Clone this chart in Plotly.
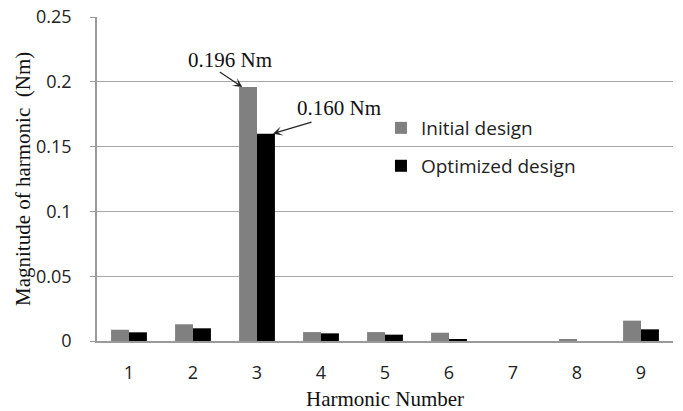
import plotly.graph_objects as go

harmonics = [1, 2, 3, 4, 5, 6, 7, 8, 9]
initial_design = [0.0087, 0.0129, 0.196, 0.0069, 0.0069, 0.0064, 0.0, 0.0015, 0.0157]
optimized_design = [0.0067, 0.0098, 0.160, 0.0059, 0.0049, 0.0015, 0.0, 0.0, 0.009]
series_names = ["Initial design", "Optimized design"]
tick_labels = [str(h) for h in harmonics]
x_title = "Harmonic Number"
y_title = "Magnitude of harmonic  (Nm)"

BAR_GAP = 0.44
bar_w = (1 - BAR_GAP) / 2

sans = "Open Sans"
serif = "Liberation Serif"

fig = go.Figure()
fig.add_trace(go.Bar(x=harmonics, y=initial_design, name=series_names[0], showlegend=True,
                     marker=dict(color="#808080", line=dict(width=0)), legend="legend"))
fig.add_trace(go.Bar(x=harmonics, y=optimized_design, name=series_names[1], showlegend=True,
                     marker=dict(color="#000000", line=dict(width=0)), legend="legend2"))

# peak annotations (harmonic 3)
i3 = harmonics.index(3)
tip1_x = harmonics[i3] - bar_w + 0.05
tip1_y = initial_design[i3]
tip2_x = harmonics[i3] + bar_w - 0.03
tip2_y = optimized_design[i3]

annos = [
    dict(x=tip1_x, y=tip1_y, xref="x", yref="y", text="", showarrow=True,
         ax=-24, ay=-16, arrowhead=3, arrowsize=1.3, arrowwidth=1.2, arrowcolor="#222"),
    dict(x=tip1_x, y=tip1_y, xref="x", yref="y", text=f"{initial_design[i3]:.3f} Nm",
         showarrow=False, xshift=-12, yshift=27, font=dict(family=serif, size=21, color="#111")),
    dict(x=tip2_x, y=tip2_y, xref="x", yref="y", text="", showarrow=True,
         ax=40, ay=-12, arrowhead=3, arrowsize=1.3, arrowwidth=1.2, arrowcolor="#222"),
    dict(x=tip2_x, y=tip2_y, xref="x", yref="y", text=f"{optimized_design[i3]:.3f} Nm",
         showarrow=False, xshift=66, yshift=26, font=dict(family=serif, size=21, color="#111")),
    # axis titles
    dict(x=0.5, y=0, xref="paper", yref="paper", text=x_title, showarrow=False,
         yanchor="middle", xanchor="center", yshift=-58,
         font=dict(family=serif, size=21, color="#111")),
    dict(x=0, y=0.5, xref="paper", yref="paper", text=y_title, showarrow=False,
         textangle=-90, xanchor="center", yanchor="middle", xshift=-74,
         font=dict(family=serif, size=21, color="#111")),
]

fig.update_layout(
    width=683, height=411,
    margin=dict(l=97, r=10, t=17, b=70, pad=0, autoexpand=False),
    paper_bgcolor="white", plot_bgcolor="white",
    showlegend=True,
    barmode="group", bargap=BAR_GAP, bargroupgap=0,
    font=dict(family=sans, size=18, color="#222"),
    annotations=annos,
    legend=dict(x=0.493, y=0.716, xanchor="left", yanchor="top", bgcolor="rgba(0,0,0,0)",
                font=dict(family=sans, size=19, color="#222"), visible=True),
    legend2=dict(x=0.493, y=0.599, xanchor="left", yanchor="top", bgcolor="rgba(0,0,0,0)",
                 font=dict(family=sans, size=19, color="#222"), visible=True),
    xaxis=dict(
        range=[0.5, 9.5], tickmode="array", tickvals=harmonics, ticktext=tick_labels,
        showgrid=False, showline=True, linecolor="#9a9a9a", linewidth=1.5,
        ticks="", ticklabelstandoff=15, zeroline=False, automargin=False,
    ),
    yaxis=dict(
        range=[0, 0.25], dtick=0.05, tick0=0,
        showgrid=True, gridcolor="#a6a6a6", gridwidth=1,
        showline=True, linecolor="#9a9a9a", linewidth=1.5,
        ticks="outside", ticklen=5, tickcolor="#9a9a9a", ticklabelstandoff=15,
        zeroline=False, automargin=False,
    ),
)

fig.write_html("out.html", config={"displayModeBar": False},
               post_script="document.body.style.margin='0';document.body.style.overflow='hidden';")
